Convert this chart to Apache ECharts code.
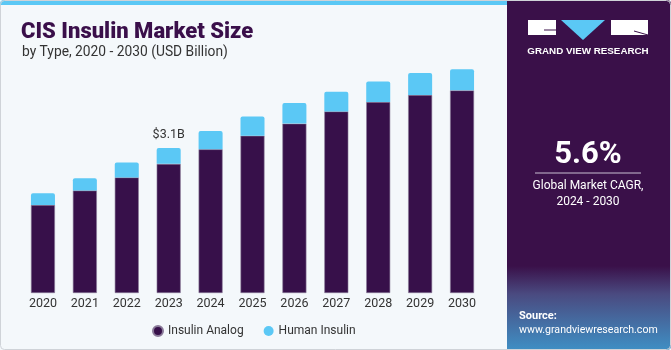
<!DOCTYPE html>
<html>
<head>
<meta charset="utf-8">
<script src="https://cdn.jsdelivr.net/npm/echarts@6/dist/echarts.min.js"></script>
<style>
  html, body { margin: 0; padding: 0; background: #fff; }
  #myChart { width: 671px; height: 350px; }
</style>
</head>
<body>
<div id="myChart"></div>
<script>
var years = ['2020', '2021', '2022', '2023', '2024', '2025', '2026', '2027', '2028', '2029', '2030'];
var insulinAnalog = [1.88, 2.19, 2.47, 2.76, 3.07, 3.36, 3.62, 3.88, 4.08, 4.23, 4.33];
var humanInsulin = [0.25, 0.26, 0.32, 0.34, 0.39, 0.41, 0.44, 0.42, 0.44, 0.47, 0.45];
var seriesNames = ['Insulin Analog', 'Human Insulin'];

window.onload = function () {
    var myChart = echarts.init(document.getElementById('myChart'));
    var dark = '#37104a';
    var blue = '#5bc8f5';

    var option = {
        backgroundColor: '#f4f8fb',
        animation: false,
        title: [{
            text: 'CIS Insulin Market Size',
            left: 16, top: 16,
            textStyle: { fontFamily: 'Roboto', fontWeight: 900, fontSize: 22, color: '#3a0f4a' }
        }, {
            text: 'by Type, 2020 - 2030 (USD Billion)',
            left: 17, top: 41,
            textStyle: { fontFamily: 'Roboto', fontWeight: 'normal', fontSize: 13.8, color: '#333' }
        }],
        legend: {
            data: seriesNames,
            left: 147, top: 320,
            icon: 'circle',
            itemWidth: 10, itemHeight: 10, itemGap: 20,
            textStyle: { fontFamily: 'Roboto', fontSize: 12, color: '#333' }
        },
        grid: { left: 22, right: 188, top: 59, bottom: 57 },
        xAxis: {
            type: 'category',
            data: years,
            axisLine: { show: false },
            axisTick: { show: false },
            axisLabel: { fontFamily: 'Roboto', fontSize: 12.5, color: '#333', margin: 4 }
        },
        yAxis: { type: 'value', min: 0, max: 5, show: false, splitLine: { show: false } },
        series: [{
            name: seriesNames[0],
            type: 'bar',
            stack: 'total',
            barWidth: 24,
            data: insulinAnalog,
            itemStyle: { color: dark, borderColor: '#8a7a99', borderWidth: 0.6 }
        }, {
            name: seriesNames[1],
            type: 'bar',
            stack: 'total',
            barWidth: 24,
            data: humanInsulin,
            itemStyle: { color: blue, borderRadius: [2, 2, 0, 0] },
            label: {
                show: true,
                position: 'top',
                distance: 7,
                fontFamily: 'Roboto',
                fontSize: 12.5,
                color: '#333',
                formatter: function (p) { return p.dataIndex === 3 ? '$3.1B' : ''; }
            }
        }],
        graphic: [
            { type: 'rect', shape: { x: 0, y: 0, width: 510, height: 5, r: [4, 0, 0, 0] }, style: { fill: blue } },
            { type: 'rect', shape: { x: 507, y: 0, width: 164, height: 350, r: [0, 4, 4, 0] },
              style: { fill: new echarts.graphic.LinearGradient(0, 0, 0, 1, [
                  { offset: 0, color: '#3a1049' }, { offset: 0.76, color: '#3a1049' },
                  { offset: 0.84, color: '#4a4a80' }, { offset: 1, color: '#3f8fc4' }]) } },
            // logo
            { type: 'rect', shape: { x: 528, y: 20, width: 28, height: 15 }, style: { fill: '#fff' } },
            { type: 'polygon', shape: { points: [[561, 20], [605, 20], [583, 40]] }, style: { fill: blue } },
            { type: 'rect', shape: { x: 611, y: 20, width: 37, height: 15 }, style: { fill: '#fff' } },
            { type: 'line', shape: { x1: 544, y1: 30, x2: 556, y2: 30 }, style: { stroke: '#3a1049', lineWidth: 1 } },
            { type: 'line', shape: { x1: 634, y1: 31, x2: 648, y2: 35 }, style: { stroke: '#3a1049', lineWidth: 1 } },
            { type: 'text', x: 588, y: 51, style: { text: 'GRAND VIEW RESEARCH', fill: '#fff', font: 'bold 9.8px "Liberation Sans"', align: 'center', verticalAlign: 'middle' } },
            { type: 'text', x: 588, y: 155, style: { text: '5.6%', fill: '#fff', font: 'bold 31px Roboto', align: 'center', verticalAlign: 'middle' } },
            { type: 'line', shape: { x1: 535, y1: 173, x2: 641, y2: 173 }, style: { stroke: '#c9bfd3', lineWidth: 1 } },
            { type: 'text', x: 588, y: 186, style: { text: 'Global Market CAGR,', fill: '#fff', font: '12px Roboto', align: 'center', verticalAlign: 'middle' } },
            { type: 'text', x: 588, y: 202, style: { text: '2024 - 2030', fill: '#fff', font: '12px Roboto', align: 'center', verticalAlign: 'middle' } },
            { type: 'text', x: 519, y: 316, style: { text: 'Source:', fill: '#fff', font: 'bold 11px Roboto', verticalAlign: 'middle' } },
            { type: 'text', x: 519, y: 330, style: { text: 'www.grandviewresearch.com', fill: '#fff', font: '10.6px Roboto', verticalAlign: 'middle' } },
            { type: 'rect', shape: { x: 0.5, y: 0.5, width: 670, height: 349, r: 4 }, style: { fill: 'none', stroke: '#cfd3d8', lineWidth: 1 } }
        ]
    };
    myChart.setOption(option);
};
</script>
</body>
</html>
